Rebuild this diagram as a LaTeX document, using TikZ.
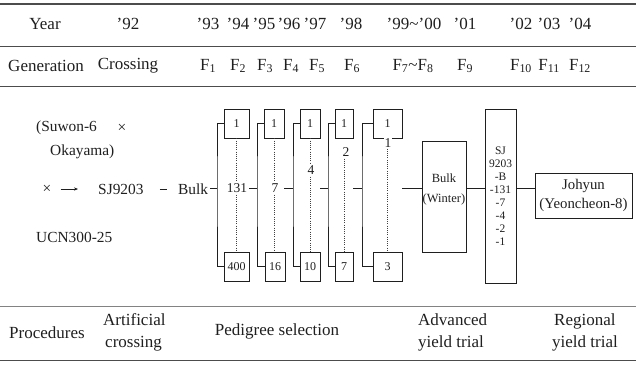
\documentclass[tikz,border=0pt]{standalone}
\usepackage{fontspec}
\setmainfont{Liberation Serif}
\usetikzlibrary{arrows.meta}
\definecolor{ink}{gray}{0.12}
\definecolor{rulegray}{gray}{0.3}
\begin{document}
\begin{tikzpicture}[x=1pt,y=-1pt,
  every node/.style={text=ink, inner sep=0pt},
  hdr/.style={font=\fontsize{17}{19}\selectfont},
  lbl/.style={font=\fontsize{15.4}{17}\selectfont},
  num/.style={font=\fontsize{13.5}{15}\selectfont, fill=white, inner sep=2pt},
  cellbox/.style={draw=ink, line width=0.6pt, minimum height=29pt, font=\fontsize{12}{13}\selectfont},
  bigbox/.style={draw=ink, line width=0.6pt},
  link/.style={draw=ink, line width=0.55pt},
  dots/.style={draw=ink!85, line width=0.5pt, dash pattern=on 1pt off 1.2pt},
  rule/.style={draw=rulegray, line width=0.7pt}
]
\useasboundingbox (0,0) rectangle (636,365);

% table rules
\draw[rule, line width=1.3pt] (0,4) -- (636,4);
\draw[rule] (0,46) -- (636,46);
\draw[rule] (0,86) -- (636,86);
\draw[rule, draw=rulegray!70, line width=0.6pt] (0,306) -- (636,306);
\draw[rule, line width=1pt] (0,360) -- (636,360);

% year row
\node[hdr] (y0) at (45,24) {Year};
\node[hdr] (y1) at (128,24) {'92};
\node[hdr] (y2) at (208,24) {'93};
\node[hdr] (y3) at (238,24) {'94};
\node[hdr] (y4) at (264,24) {'95};
\node[hdr] (y5) at (289,24) {'96};
\node[hdr] (y6) at (315,24) {'97};
\node[hdr] (y7) at (351,24) {'98};
\node[hdr] (y8) at (414,24) {'99\textasciitilde'00};
\node[hdr] (y9) at (465,24) {'01};
\node[hdr] (y10) at (521,24) {'02};
\node[hdr] (y11) at (549,24) {'03};
\node[hdr] (y12) at (580,24) {'04};

% generation row
\node[hdr] (g0) at (46,66) {Generation};
\node[hdr] (g1) at (128,66) {Crossing};
\node[hdr] (g2) at (208,66) {F\textsubscript{1}};
\node[hdr] (g3) at (238,66) {F\textsubscript{2}};
\node[hdr] (g4) at (265,66) {F\textsubscript{3}};
\node[hdr] (g5) at (291,66) {F\textsubscript{4}};
\node[hdr] (g6) at (317,66) {F\textsubscript{5}};
\node[hdr] (g7) at (352,66) {F\textsubscript{6}};
\node[hdr] (g8) at (413,66) {F\textsubscript{7}\textasciitilde F\textsubscript{8}};
\node[hdr] (g9) at (465,66) {F\textsubscript{9}};
\node[hdr] (g10) at (521,66) {F\textsubscript{10}};
\node[hdr] (g11) at (549,66) {F\textsubscript{11}};
\node[hdr] (g12) at (580,66) {F\textsubscript{12}};

% crossing
\node[lbl, anchor=west] (suw) at (36,128) {(Suwon-6};
\node[lbl] (xa) at (122,128) {×};
\node[lbl, anchor=west] (oka) at (50,152) {Okayama)};
\node[lbl] (xb) at (47,189) {×};
\node[lbl, anchor=west] (sj) at (98,189) {SJ9203};
\node[lbl, anchor=west] (bk) at (178,189) {Bulk};
\node[lbl, anchor=west] (ucn) at (36,237) {UCN300-25};
\draw[link, -{Stealth[length=4pt,width=3.2pt]}, shorten <=9pt, shorten >=20pt] (xb) -- (sj);
\draw[link, shorten <=16pt, shorten >=11pt] (sj) -- (bk);

% pedigree selection columns
\coordinate (k1) at (217,188);
\coordinate (k2) at (257,188);
\coordinate (k3) at (293,188);
\coordinate (k4) at (328,188);
\coordinate (k5) at (362,188);

\node[cellbox, minimum width=25pt] (t1) at (236.5,123.5) {1};
\node[cellbox, minimum width=25pt] (b1) at (236.5,266.5) {400};
\node[cellbox, minimum width=20pt] (t2) at (274,123.5) {1};
\node[cellbox, minimum width=20pt] (b2) at (275,266.5) {16};
\node[cellbox, minimum width=20pt] (t3) at (310,123.5) {1};
\node[cellbox, minimum width=20pt] (b3) at (310,266.5) {10};
\node[cellbox, minimum width=18pt] (t4) at (344,123.5) {1};
\node[cellbox, minimum width=18pt] (b4) at (344,266.5) {7};
\node[cellbox, minimum width=29pt] (t5) at (387.5,123.5) {1};
\node[cellbox, minimum width=29pt] (b5) at (387.5,266.5) {3};

\node[num] (l1) at (237,188) {131};
\node[num] (l2) at (275,188) {7};
\node[num] (l3) at (311,170) {4};
\node[num] (l4) at (346,152) {2};
\node[num, inner sep=1pt] (l5) at (388,143) {1};

% dotted lines through the selection counts
\draw[dots] (t1.south) -- (t1.south |- l1.north);
\draw[dots] (t1.south |- l1.south) -- (b1.north -| t1.south);
\draw[dots] (t2.south) -- (t2.south |- l2.north);
\draw[dots] (t2.south |- l2.south) -- (b2.north -| t2.south);
\draw[dots] (t3.south) -- (t3.south |- l3.north);
\draw[dots] (t3.south |- l3.south) -- (b3.north -| t3.south);
\draw[dots] (t4.south |- l4.south) -- (b4.north -| t4.south);
\draw[dots] (t5.south |- l5.south) -- (b5.north -| t5.south);

% brackets joining each top and bottom line
\draw[link] (t1.west) -| (k1) |- (b1.west);
\draw[link] (t2.west) -| (k2) |- (b2.west);
\draw[link] (t3.west) -| (k3) |- (b3.west);
\draw[link] (t4.west) -| (k4) |- (b4.west);
\draw[link] (t5.west) -| (k5) |- (b5.west);

% flow from bulk through the generations
\draw[link, shorten <=2pt] (bk.east |- k1) -- (k1);
\draw[link] (t1.east |- k1) -- (k2);
\draw[link] (t2.east |- k2) -- (k3);
\draw[link] (t3.east |- k3) -- (k4);
\draw[link] (t4.east |- k4) -- (k5);

% yield trials
\node[bigbox, minimum width=44pt, minimum height=111pt] (bw) at (444,196.5) {};
\node[font=\fontsize{12.5}{20}\selectfont, align=center] (bwt) at (444,189) {Bulk\\(Winter)};
\node[bigbox, minimum width=31pt, minimum height=174pt, align=center,
      font=\fontsize{11.5}{13}\selectfont] (sjb) at (500.5,196) {SJ\\9203\\-B\\-131\\-7\\-4\\-2\\-1};
\node[bigbox, minimum width=97pt, minimum height=45pt, align=center,
      font=\fontsize{14.8}{19}\selectfont] (jo) at (583.5,195.5) {Johyun\\(Yeoncheon-8)};

\draw[link] (t5.east |- k5) -- (bw.west |- k5);
\draw[link] (bw.east |- k5) -- (sjb.west |- k5);
\draw[link] (sjb.east |- k5) -- (jo.west |- k5);

% procedures row
\node[hdr] (p0) at (47,333) {Procedures};
\node[hdr, anchor=west, align=left, font=\fontsize{17}{22}\selectfont] (p1) at (103,332) {Artificial\\\hspace*{2pt}crossing};
\node[hdr] (p2) at (277,331) {Pedigree selection};
\node[hdr, anchor=west, align=left, font=\fontsize{17}{22}\selectfont] (p3) at (418,332) {Advanced\\yield trial};
\node[hdr, anchor=west, align=left, font=\fontsize{17}{22}\selectfont] (p4) at (552,332) {\hspace*{2pt}Regional\\yield trial};
\end{tikzpicture}
\end{document}
